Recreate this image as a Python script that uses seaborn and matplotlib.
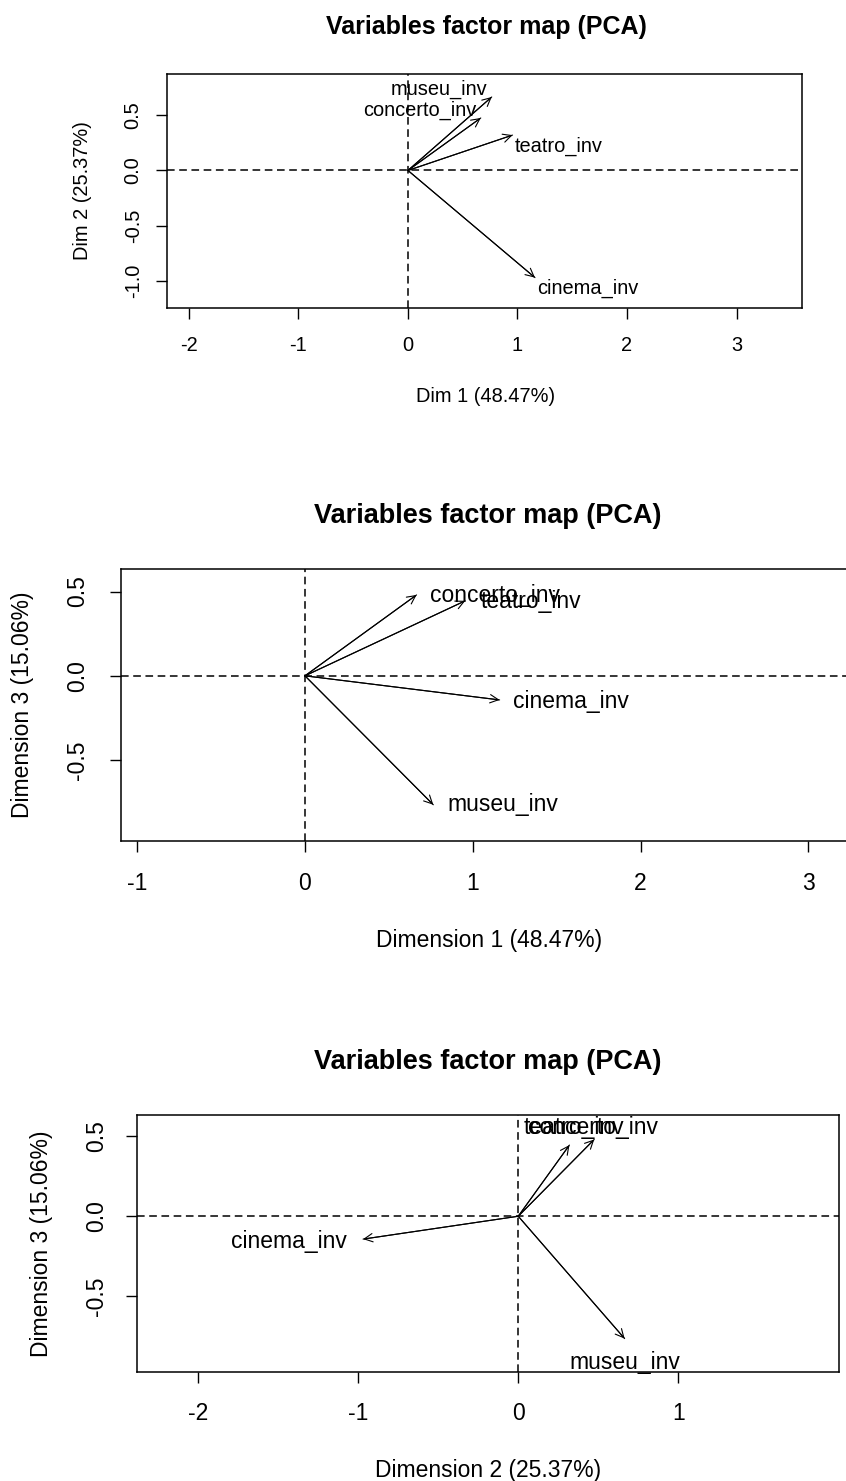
import matplotlib
matplotlib.use("Agg")
import matplotlib.pyplot as plt
import seaborn as sns
import pandas as pd

# ---------------- data ----------------
variables = ["museu_inv", "concerto_inv", "teatro_inv", "cinema_inv"]
dim1 = [0.765, 0.665, 0.955, 1.16]
dim2 = [0.665, 0.475, 0.32, -0.97]
dim3 = [-0.765, 0.48, 0.445, -0.143]

title_text = "Variables factor map (PCA)"
x_titles = ["Dim 1 (48.47%)", "Dimension 1 (48.47%)", "Dimension 2 (25.37%)"]
y_titles = ["Dim 2 (25.37%)", "Dimension 3 (15.06%)", "Dimension 3 (15.06%)"]

xticks_p1 = [-2, -1, 0, 1, 2, 3]
yticks_p1 = [-1.0, -0.5, 0.0, 0.5]
xticks_p2 = [-1, 0, 1, 2, 3]
yticks_p2 = [-0.5, 0.0, 0.5]
xticks_p3 = [-2, -1, 0, 1]
yticks_p3 = [-0.5, 0.0, 0.5]

dims = {"Dim 1": dim1, "Dim 2": dim2, "Dim 3": dim3}

# ---------------- style ----------------
sns.set_style("ticks")
plt.rcParams["font.family"] = ["Liberation Sans", "DejaVu Sans"]
plt.rcParams["axes.unicode_minus"] = False
plt.rcParams["text.color"] = "black"
plt.rcParams["axes.labelcolor"] = "black"
plt.rcParams["xtick.color"] = "black"
plt.rcParams["ytick.color"] = "black"

W, H = 846, 1481
fig = plt.figure(figsize=(W / 100, H / 100), dpi=100)


def rect(l, r, t, b):
    return [l / W, 1 - b / H, (r - l) / W, (b - t) / H]


panels = [
    dict(xd="Dim 1", yd="Dim 2", rect=rect(167, 802, 74, 308),
         xlim=(-2.20, 3.598), ylim=(-1.245, 0.873),
         xticks=xticks_p1, yticks=yticks_p1, fs=14.4, tfs=18.0,
         title_xy=(486, 27), xlab_y=-0.380, ylab_x=-0.1323, xlab_x=0.502,
         xpad=12.5, ypad=9.5,
         labels={"museu_inv": (-4, 8, "right"), "concerto_inv": (-4, 8, "right"),
                 "teatro_inv": (2, -11, "left"), "cinema_inv": (2, -11, "left")}),
    dict(xd="Dim 1", yd="Dim 3", rect=rect(120.7, 850, 569.3, 841),
         xlim=(-1.098, 3.248), ylim=(-0.980, 0.632),
         xticks=xticks_p2, yticks=yticks_p2, fs=16.5, tfs=19.5,
         title_xy=(488, 516), xlab_y=-0.368, ylab_x=-0.1343, xlab_x=0.505,
         xpad=14, ypad=15,
         labels={"museu_inv": (14, 0, "left"), "concerto_inv": (13, -1, "left"),
                 "teatro_inv": (15, -1, "left"), "cinema_inv": (13, -2, "left")}),
    dict(xd="Dim 2", yd="Dim 3", rect=rect(136.7, 839, 1115, 1371.7),
         xlim=(-2.385, 2.005), ylim=(-0.972, 0.633),
         xticks=xticks_p3, yticks=yticks_p3, fs=16.5, tfs=19.5,
         title_xy=(488, 1062), xlab_y=-0.383, ylab_x=-0.1353, xlab_x=0.5,
         xpad=14, ypad=12.5,
         labels={"museu_inv": (0, -24, "center"), "concerto_inv": (-1, 12, "center"),
                 "teatro_inv": (4, 18, "center"), "cinema_inv": (-16, -2, "right")}),
]

for i, p in enumerate(panels):
    ax = fig.add_axes(p["rect"])
    xs = dims[p["xd"]]
    ys = dims[p["yd"]]

    # arrow shafts drawn with seaborn from origin to each variable
    rows = []
    for v, x, y in zip(variables, xs, ys):
        rows.append(dict(variable=v, step=0, x=0.0, y=0.0))
        rows.append(dict(variable=v, step=1, x=x, y=y))
    df = pd.DataFrame(rows)
    sns.lineplot(data=df, x="x", y="y", units="variable", estimator=None,
                 sort=False, color="black", lw=0.8, ax=ax, legend=False)

    ax.axhline(0, color="black", lw=1.1, ls=(0, (5, 3)), zorder=1)
    ax.axvline(0, color="black", lw=1.1, ls=(0, (5, 3)), zorder=1)

    for v, x, y in zip(variables, xs, ys):
        ax.annotate("", xy=(x, y), xytext=(0, 0), xycoords="data",
                    arrowprops=dict(arrowstyle="->,head_length=0.6,head_width=0.3",
                                    lw=0.8, color="black", shrinkA=0, shrinkB=0,
                                    mutation_scale=10))
        dx, dy, ha = p["labels"][v]
        ax.annotate(v, xy=(x, y), xytext=(dx, dy), textcoords="offset pixels",
                    ha=ha, va="center", fontsize=p["fs"], color="black",
                    annotation_clip=False)

    ax.set_xlim(*p["xlim"])
    ax.set_ylim(*p["ylim"])
    ax.set_xticks(p["xticks"])
    ax.set_xticklabels([f"{t:d}" for t in p["xticks"]])
    ax.set_yticks(p["yticks"])
    ax.set_yticklabels([f"{t:.1f}" for t in p["yticks"]])
    ax.tick_params(axis="both", direction="out", length=8, width=1.0,
                   colors="black", labelsize=p["fs"], labelcolor="black")
    ax.tick_params(axis="x", pad=p["xpad"])
    ax.tick_params(axis="y", pad=p["ypad"], labelrotation=90)
    for lab in ax.get_yticklabels():
        lab.set_va("center")
    for s in ax.spines.values():
        s.set_color("black")
        s.set_linewidth(1.1)

    ax.set_xlabel(x_titles[i], fontsize=p["fs"], va="center", color="black")
    ax.xaxis.set_label_coords(p["xlab_x"], p["xlab_y"])
    ax.set_ylabel(y_titles[i], fontsize=p["fs"], va="center", color="black")
    ax.yaxis.set_label_coords(p["ylab_x"], 0.5)

    tx, ty = p["title_xy"]
    fig.text(tx / W, 1 - ty / H, title_text, ha="center", va="center",
             fontsize=p["tfs"], fontweight="bold", color="black")

fig.savefig("out.png", dpi=100)
